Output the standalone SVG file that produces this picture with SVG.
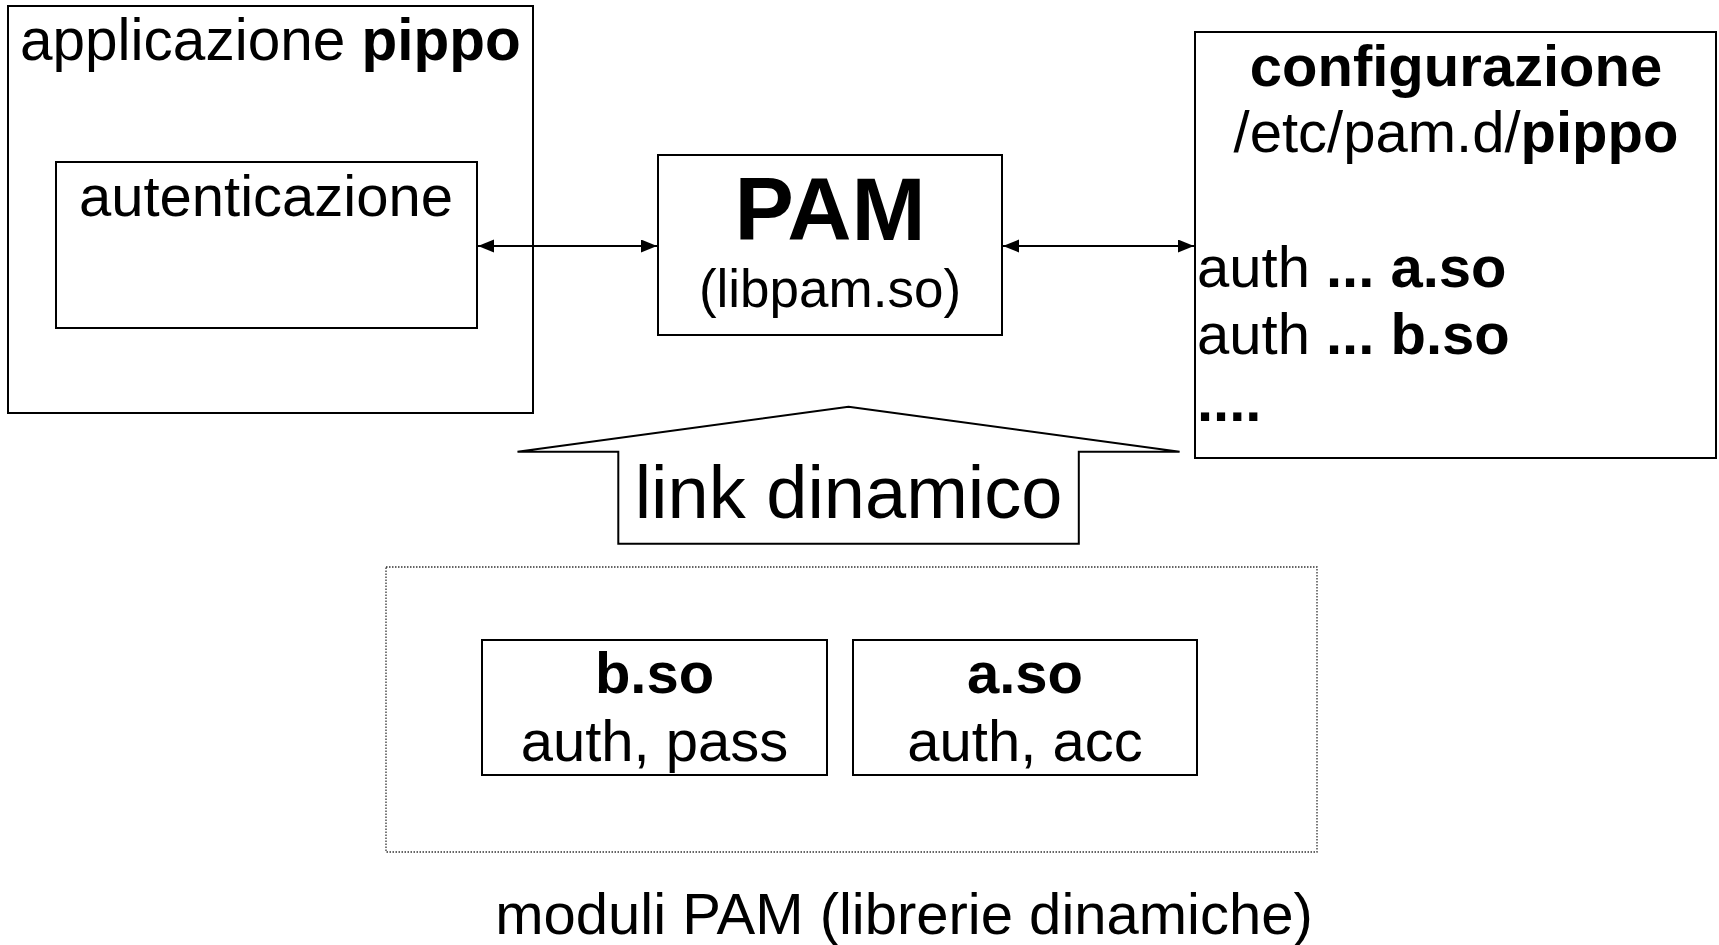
<svg xmlns="http://www.w3.org/2000/svg" width="1719" height="945" viewBox="0 0 1719 945">
<style>
.box{fill:#fff;stroke:#000;stroke-width:2}
.t{font-family:"Liberation Sans",Arial,sans-serif;font-size:58px;fill:#000}
.b{font-weight:bold}
.c{text-anchor:middle}
.ln{stroke:#000;stroke-width:2.2;fill:none}
</style>
<defs>
<marker id="ah" markerUnits="userSpaceOnUse" markerWidth="18" markerHeight="14" refX="16" refY="6.5" orient="auto-start-reverse">
<path d="M0,0 L16,6.5 L0,13 z" fill="#000"/>
</marker>
</defs>
<rect width="1719" height="945" fill="#fff"/>
<g id="app">
<rect class="box" x="8" y="6" width="525" height="407"/>
<text class="t" x="20" y="60" style="font-size:58.5px">applicazione <tspan class="b">pippo</tspan></text>
</g>
<g id="autenticazione">
<rect class="box" x="56" y="162" width="421" height="166"/>
<text class="t c" x="266" y="216">autenticazione</text>
</g>
<g id="pam">
<rect class="box" x="658" y="155" width="344" height="180"/>
<text class="t b c" x="830" y="240" style="font-size:89px">PAM</text>
<text class="t c" x="830" y="307" style="font-size:53px">(libpam.so)</text>
</g>
<g id="config">
<rect class="box" x="1195" y="32" width="521" height="426"/>
<text class="t b c" x="1456" y="86">configurazione</text>
<text class="t c" x="1456" y="152">/etc/pam.d/<tspan class="b">pippo</tspan></text>
<text class="t" x="1197" y="287">auth <tspan class="b">... a.so</tspan></text>
<text class="t" x="1197" y="354">auth <tspan class="b">... b.so</tspan></text>
<text class="t b" x="1197" y="421">....</text>
</g>
<g id="link-dinamico">
<polygon class="box" points="848.5,406.7 1179.6,451.7 1078.8,451.7 1078.8,543.8 618.3,543.8 618.3,451.7 517.5,451.7"/>
<text class="t c" x="848.5" y="518" style="font-size:74px">link dinamico</text>
</g>
<g id="moduli">
<rect x="386" y="567" width="931" height="285" fill="none" stroke="#333" stroke-width="1.3" stroke-dasharray="1.5 1.5"/>
<text class="t c" x="904" y="934">moduli PAM (librerie dinamiche)</text>
</g>
<g id="bso">
<rect class="box" x="482" y="640" width="345" height="135"/>
<text class="t b c" x="654.5" y="693">b.so</text>
<text class="t c" x="654.5" y="761">auth, pass</text>
</g>
<g id="aso">
<rect class="box" x="853" y="640" width="344" height="135"/>
<text class="t b c" x="1025" y="693">a.so</text>
<text class="t c" x="1025" y="761">auth, acc</text>
</g>
<g id="connectors">
<line class="ln" x1="478" y1="246" x2="657" y2="246" marker-start="url(#ah)" marker-end="url(#ah)"/>
<line class="ln" x1="1003" y1="246" x2="1194" y2="246" marker-start="url(#ah)" marker-end="url(#ah)"/>
</g>
</svg>
